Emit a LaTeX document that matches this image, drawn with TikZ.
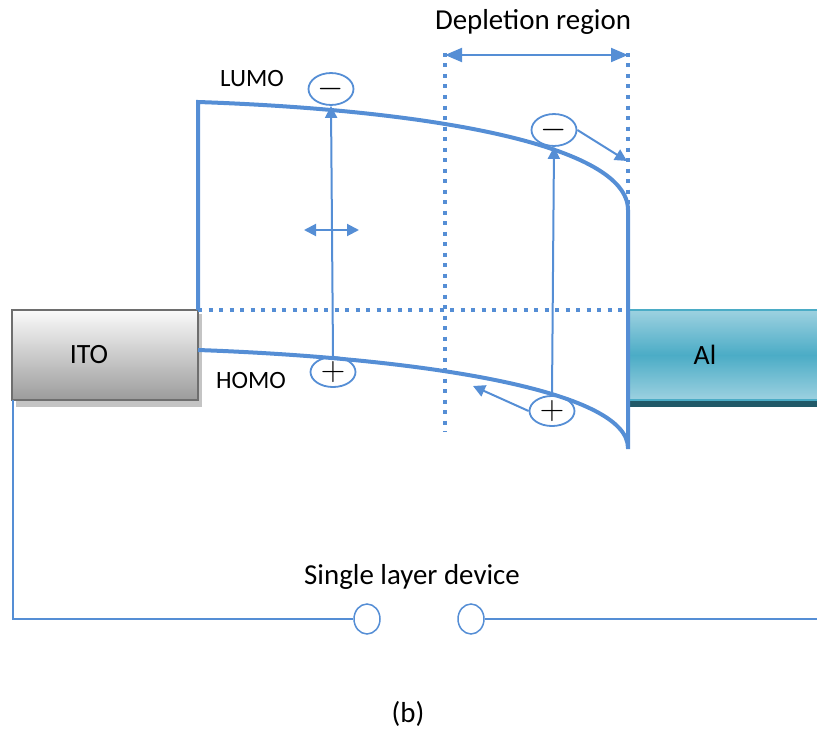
\RequirePackage{fix-cm}
\documentclass[tikz,border=0pt]{standalone}
\usepackage{fontspec}
\setmainfont{Carlito}
\usepackage{tikz}
\usetikzlibrary{arrows.meta, shapes.geometric}

\definecolor{bandblue}{HTML}{558ED5}
\definecolor{itoedge}{HTML}{6E6E6E}
\definecolor{itotop}{HTML}{FAFAFA}
\definecolor{itobottom}{HTML}{9C9C9C}
\definecolor{shadowgray}{HTML}{C4C4C4}
\definecolor{altop}{HTML}{9DD1E0}
\definecolor{almid}{HTML}{4BACC6}
\definecolor{alstrip}{HTML}{215968}

\begin{document}
\begin{tikzpicture}[x=1bp, y=-1bp, % pixel units, y pointing down
    >={Triangle[length=12bp, width=12bp]},
    bandline/.style={draw=bandblue, line width=4bp},
    dotline/.style={draw=bandblue, line width=3.8bp, dash pattern=on 4bp off 6.5bp},
    hop/.style={draw=bandblue, line width=2bp, ->},
    carrier/.style={ellipse, draw=bandblue, line width=1.8bp, minimum width=45bp, minimum height=30bp, inner sep=0pt, font=\fontsize{34}{34}\selectfont},
    terminal/.style={ellipse, draw=bandblue, line width=1.5bp, minimum width=26bp, minimum height=30bp, inner sep=0pt},
    wire/.style={draw=bandblue, line width=1.5bp},
    lbl/.style={font=\fontsize{#1}{#1}\selectfont, inner sep=0pt}]
    \useasboundingbox (0,0) rectangle (817,735);

    % 1. Electrodes
    \fill[shadowgray] (16,314) rectangle (202,407);
    \draw[draw=itoedge, line width=2bp, top color=itotop, bottom color=itobottom] (12,310) rectangle (198,400);
    \node[lbl=28] (ito) at (89,355) {ITO};

    \fill[alstrip] (628,400) rectangle (820,407);
    \draw[draw=almid, line width=2bp, top color=altop, bottom color=altop, middle color=almid] (629,310) rectangle (822,400);
    \node[lbl=28] (al) at (705,355) {Al};

    % 2. Band edges (LUMO / HOMO)
    \draw[bandline] (198,310) -- (198,102) .. controls (430,110) and (628,145) .. (628,210) -- (628,449);
    \draw[bandline] (198,350) .. controls (420,358) and (628,390) .. (628,448);
    \draw[dotline] (198,310) -- (628,310);
    \draw[dotline] (445,53) -- (445,432);
    \draw[dotline] (628,53) -- (628,205);
    \node[lbl=25] (lumo) at (252,79) {LUMO};
    \node[lbl=25] (homo) at (251,381) {HOMO};

    % 3. Depletion region
    \coordinate (dep-l) at (445,55);
    \coordinate (dep-r) at (628,55);
    \draw[hop, <->, >={Triangle[length=17bp, width=14bp]}] (dep-l) -- (dep-r);
    \node[lbl=29] (dep) at (533,22) {Depletion region};

    % 4. Carriers
    \node[carrier] (e1) at (331,89) {$-$};
    \node[carrier] (h1) at (333,372) {$+$};
    \node[carrier] (e2) at (554,130) {$-$};
    \node[carrier] (h2) at (552,411) {$+$};
    \draw[hop] (h1.north) -- (e1.south);
    \draw[hop] (h2.north) -- (e2.south);

    \coordinate (e2-end) at (627,161);
    \coordinate (h2-end) at (473,386);
    \draw[hop] (e2.east) -- (e2-end);
    \draw[hop] (h2.west) -- (h2-end);

    \coordinate (sway-l) at (304,230);
    \coordinate (sway-r) at (359,230);
    \draw[hop, <->] (sway-l) -- (sway-r);

    % 5. Circuit
    \node[terminal] (sw1) at (367,619) {};
    \node[terminal] (sw2) at (471,619) {};
    \coordinate (ito-foot) at (13,400);
    \coordinate (wire-l) at (13,619);
    \coordinate (wire-r) at (817,619);
    \draw[wire] (ito-foot) -- (wire-l) -- (sw1.west);
    \draw[wire] (sw2.east) -- (wire-r);
    \node[lbl=29] (device) at (412,577) {Single layer device};

    \node[lbl=29] (fig) at (408,714) {(b)};
\end{tikzpicture}
\end{document}
